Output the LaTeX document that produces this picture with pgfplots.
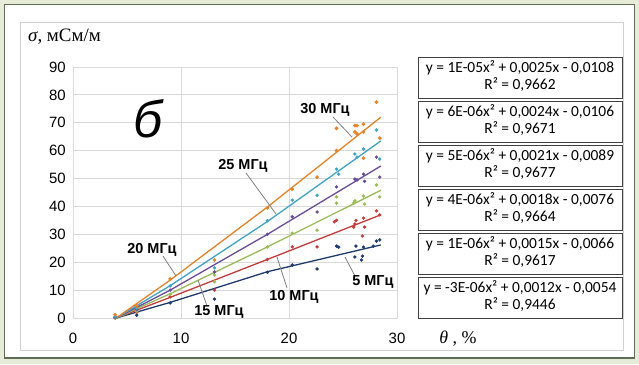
\documentclass[border=0pt]{standalone}
\usepackage{fontspec}
\setmainfont{Liberation Sans}
\newfontfamily\seriff{Liberation Serif}
\newfontfamily\carl{Carlito}
\usepackage{pgfplots}
\pgfplotsset{compat=1.18}
\definecolor{cA}{HTML}{E5832A}
\definecolor{cB}{HTML}{3FA3C4}
\definecolor{cC}{HTML}{6B4C9A}
\definecolor{cD}{HTML}{9BBB59}
\definecolor{cE}{HTML}{C43B3B}
\definecolor{cF}{HTML}{1F3A6B}
\definecolor{bggreen}{HTML}{E6ECD8}
\definecolor{framec}{HTML}{5F6F57}
\begin{document}
\begin{tikzpicture}
\begin{scope}[x=1bp,y=1bp]
\fill[bggreen] (0,0) rectangle (639,364);
\draw[framec, line width=1.2bp, fill=white] (4.5,6) rectangle (634.5,359.5);
\draw[black!18, line width=0.8bp] (20,14) rectangle (623,342);
\end{scope}
\begin{axis}[
  at={(73bp,46bp)}, anchor=south west, scale only axis,
  width=324bp, height=251bp,
  xmin=0, xmax=30, ymin=0, ymax=90,
  xtick={0,10,20,30}, ytick={0,10,...,90},
  xmajorgrids, ymajorgrids,
  grid style={draw=black!15, line width=0.8bp},
  axis line style={draw=black!15, line width=0.8bp},
  major tick length=0pt,
  tick label style={font=\fontsize{15}{15}\selectfont, inner sep=0pt},
  /pgf/number format/assume math mode=true,
  yticklabel style={xshift=-7bp},
  xticklabel style={yshift=-15bp},
  clip=false,
]
% data points
\addplot[only marks, mark=*, mark size=1.5bp, color=cF] coordinates {
(3.9,0) (5.9,1) (9.0,5.4) (13.1,6.8) (18.0,16.4) (20.3,19) (22.6,17.6) (24.4,25.8) (24.6,25.4) (26.2,25.8) (26.1,21.9) (26.9,25.4) (26.8,22.2) (26.7,20.8) (28.1,27.6) (28.4,28) (27.8,25.8)};
\addplot[only marks, mark=*, mark size=1.5bp, color=cE] coordinates {
(3.9,0.2) (5.9,2) (9.0,7.6) (13.1,10) (18.0,21) (20.3,25.5) (22.6,25.5) (24.4,35) (24.2,34.5) (26.1,33.7) (26.2,35) (26.0,32.6) (26.9,35.8) (27.0,32.6) (26.8,29.4) (28.1,38.4) (28.4,37)};
\addplot[only marks, mark=*, mark size=1.5bp, color=cD] coordinates {
(3.9,0) (5.9,2.5) (9.0,8.5) (13.1,15.4) (13.1,13) (18.0,25.5) (20.3,30.4) (22.6,31.5) (24.4,43.4) (24.4,41.2) (26.1,42) (26.0,41.2) (26.9,43.7) (27.0,40.9) (28.1,47.7) (28.4,43.4)};
\addplot[only marks, mark=*, mark size=1.5bp, color=cC] coordinates {
(3.9,0.3) (5.9,3) (9.0,10) (13.1,16.5) (18.0,30) (20.3,36.3) (22.6,38) (24.4,47) (26.1,49.8) (26.3,49.5) (26.9,51.6) (27.0,49) (28.1,57.7) (28.4,50.5)};
\addplot[only marks, mark=*, mark size=1.5bp, color=cB] coordinates {
(3.9,0.5) (5.9,3.5) (9.0,11.5) (13.1,18) (18.0,34.9) (20.3,42.3) (22.6,44) (24.4,53.4) (24.6,51.6) (26.1,58.8) (26.3,57.7) (26.9,60.6) (28.1,67.4) (28.4,57)};
\addplot[only marks, mark=*, mark size=1.7bp, color=cA] coordinates {
(3.9,1.2) (5.9,4.3) (9.0,14) (13.1,20.8) (18.0,39.5) (20.3,46.2) (22.6,50.5) (24.4,60) (24.4,68) (26.1,69) (26.3,69) (26.1,66.7) (26.3,66) (26.9,69.5) (26.9,66.7) (26.9,57.3) (28.1,77.4) (28.4,64.5)};
% trend lines
\addplot[cF, line width=1.3bp] coordinates {(4,0) (9,5.6) (18,16.6) (28.5,26.2)};
\addplot[cE, line width=1.3bp] coordinates {(4,0) (9,7.4) (18,21) (28.5,37)};
\addplot[cD, line width=1.3bp] coordinates {(4,0) (9,8.7) (18,25.5) (28.5,45.8)};
\addplot[cC, line width=1.3bp] coordinates {(4,0) (9,10) (18,30) (28.5,54.5)};
\addplot[cB, line width=1.3bp] coordinates {(4,0) (9,11.6) (18,34.6) (28.5,63.5)};
\addplot[cA, line width=1.3bp] coordinates {(4,0) (9,13.6) (18,39.8) (28.5,72)};
\end{axis}
\begin{scope}[x=1bp,y=1bp]
% leader lines
\draw[black!50, line width=0.8bp] (333,364-117) -- (352,364-137);
\draw[black!50, line width=0.8bp] (246,364-173) -- (276,364-214);
\draw[black!50, line width=0.8bp] (163,364-256) -- (176,364-276);
\draw[black!50, line width=0.8bp] (207,364-306) -- (198,364-280);
\draw[black!50, line width=0.8bp] (287,364-288) -- (277,364-257);
\draw[black!50, line width=0.8bp] (355,364-276) -- (345,364-257);
% frequency labels
\begin{scope}[every node/.style={font=\bfseries\fontsize{14.5}{14.5}\selectfont, inner sep=0pt}]
\node at (325,364-110) {30 МГц};
\node at (243,364-166) {25 МГц};
\node at (152,364-250) {20 МГц};
\node at (219,364-312) {15 МГц};
\node at (294,364-297) {10 МГц};
\node at (373,364-282) {5 МГц};
\end{scope}
% big letter
\node at (148,364-119) {\itshape\fontsize{52}{52}\selectfont б};
% axis titles
\node[anchor=west, inner sep=0pt] at (28,364-37) {\seriff\fontsize{19}{19}\selectfont \textit{σ}, мСм/м};
\node[inner sep=0pt] at (458,364-339) {\seriff\fontsize{18}{18}\selectfont \textit{θ} , \%};
% equation boxes
\begin{scope}[every node/.style={font=\carl\fontsize{15.5}{15.5}\selectfont, inner sep=0pt}]
\foreach \t/\eq/\rr in {57/{y = 1E-05x² + 0,0025x - 0,0108}/{R² = 0,9662},
                        101/{y = 6E-06x² + 0,0024x - 0,0106}/{R² = 0,9671},
                        145/{y = 5E-06x² + 0,0021x - 0,0089}/{R² = 0,9677},
                        189/{y = 4E-06x² + 0,0018x - 0,0076}/{R² = 0,9664},
                        233/{y = 1E-06x² + 0,0015x - 0,0066}/{R² = 0,9617},
                        277/{y = -3E-06x² + 0,0012x - 0,0054}/{R² = 0,9446}} {
  \draw[black!75, line width=0.9bp, fill=white] (418,364-\t) rectangle (622,364-\t-41);
  \node at (520,364-\t-11) {\eq};
  \node at (520,364-\t-28) {\rr};
}
\end{scope}
\end{scope}
\end{tikzpicture}
\end{document}
